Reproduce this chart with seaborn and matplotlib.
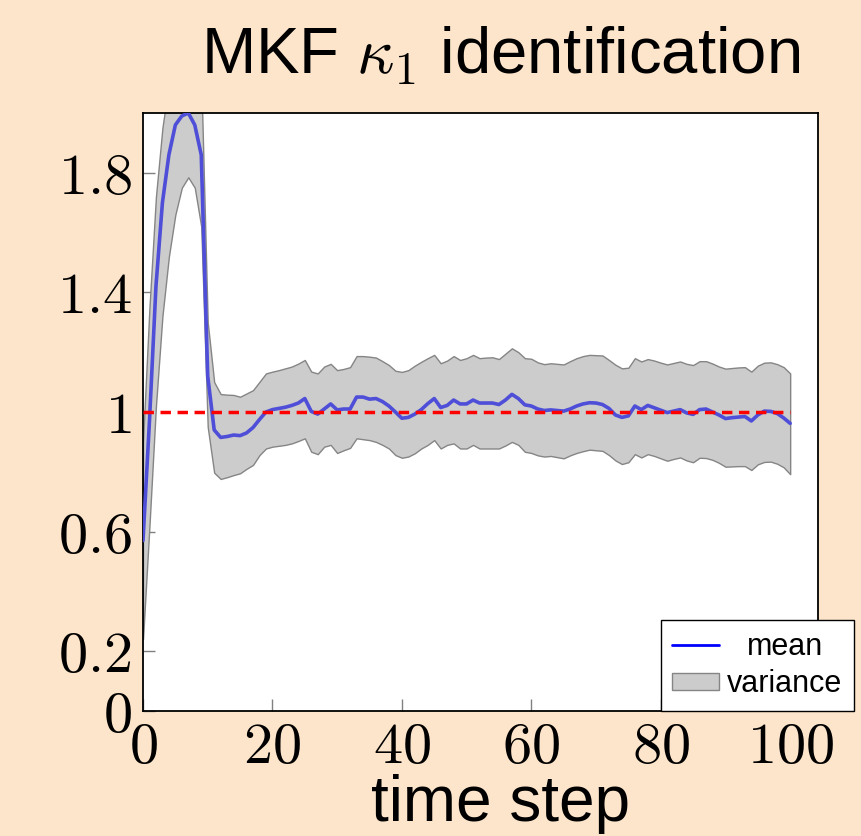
import numpy as np
import pandas as pd
import matplotlib
matplotlib.use("Agg")
import matplotlib.pyplot as plt
import seaborn as sns
from matplotlib.lines import Line2D
from matplotlib.patches import Patch

time_step = list(range(0, 101))
mean_vals = [0.57, 0.97, 1.42, 1.70, 1.86, 1.96, 1.99, 2.00, 1.96, 1.86,
             1.12, 0.94, 0.915, 0.918, 0.923, 0.921, 0.93, 0.948, 0.975, 1.0,
             1.008, 1.012, 1.016, 1.022, 1.03, 1.045, 1.002, 0.993, 1.01, 1.027,
             1.007, 1.01, 1.01, 1.05, 1.05, 1.043, 1.045, 1.035, 1.02, 1.0,
             0.979, 0.982, 0.993, 1.008, 1.028, 1.045, 1.015, 1.022, 1.04, 1.027,
             1.027, 1.04, 1.03, 1.03, 1.03, 1.025, 1.04, 1.059, 1.045, 1.024,
             1.02, 1.01, 1.005, 1.007, 1.005, 1.003, 1.01, 1.02, 1.027, 1.031,
             1.03, 1.025, 1.012, 0.99, 0.982, 0.987, 1.02, 1.008, 1.022, 1.014,
             1.006, 0.998, 1.003, 1.008, 0.997, 0.992, 1.008, 1.01, 1.0, 0.99,
             0.978, 0.981, 0.983, 0.985, 0.97, 0.99, 1.003, 1.002, 0.995, 0.98,
             0.962]
upper_vals = [0.90, 1.35, 1.72, 1.95, 2.1, 2.2, 2.25, 2.25, 2.22, 2.12,
              1.30, 1.10, 1.06, 1.058, 1.057, 1.051, 1.062, 1.073, 1.101, 1.129,
              1.135, 1.14, 1.146, 1.152, 1.162, 1.174, 1.135, 1.129, 1.152, 1.161,
              1.14, 1.144, 1.15, 1.187, 1.187, 1.185, 1.182, 1.17, 1.157, 1.138,
              1.134, 1.14, 1.155, 1.168, 1.18, 1.191, 1.163, 1.172, 1.187, 1.174,
              1.18, 1.191, 1.18, 1.182, 1.183, 1.177, 1.195, 1.213, 1.2, 1.18,
              1.178, 1.166, 1.16, 1.163, 1.161, 1.159, 1.17, 1.18, 1.187, 1.191,
              1.19, 1.189, 1.174, 1.158, 1.146, 1.148, 1.18, 1.169, 1.177, 1.172,
              1.165, 1.159, 1.164, 1.169, 1.161, 1.157, 1.17, 1.17, 1.162, 1.152,
              1.145, 1.147, 1.149, 1.15, 1.135, 1.155, 1.165, 1.166, 1.16, 1.15,
              1.129]
lower_vals = [0.24, 0.62, 1.02, 1.32, 1.52, 1.66, 1.75, 1.785, 1.75, 1.62,
              0.95, 0.797, 0.776, 0.782, 0.789, 0.795, 0.81, 0.823, 0.856, 0.878,
              0.884, 0.887, 0.89, 0.895, 0.903, 0.912, 0.867, 0.859, 0.884, 0.89,
              0.863, 0.872, 0.88, 0.912, 0.909, 0.906, 0.90, 0.89, 0.878, 0.856,
              0.847, 0.851, 0.862, 0.878, 0.89, 0.906, 0.878, 0.89, 0.895, 0.878,
              0.878, 0.89, 0.878, 0.878, 0.878, 0.878, 0.888, 0.90, 0.89, 0.867,
              0.863, 0.855, 0.851, 0.853, 0.849, 0.845, 0.855, 0.863, 0.869, 0.874,
              0.872, 0.87, 0.856, 0.838, 0.826, 0.832, 0.859, 0.848, 0.859, 0.853,
              0.845, 0.837, 0.843, 0.848, 0.838, 0.832, 0.847, 0.846, 0.84, 0.83,
              0.817, 0.818, 0.819, 0.819, 0.806, 0.825, 0.833, 0.834, 0.827, 0.815,
              0.792]
true_value = 1.0
x_ticks = [0, 20, 40, 60, 80, 100]
x_tick_labels = ["0", "20", "40", "60", "80", "100"]
y_ticks = [0, 0.2, 0.6, 1.0, 1.4, 1.8]
y_tick_labels = ["0", "0.2", "0.6", "1", "1.4", "1.8"]
legend_labels = ["mean", "variance"]

sns.set_theme(style="white")
plt.rcParams["font.family"] = ["Liberation Sans", "DejaVu Sans"]
plt.rcParams["mathtext.fontset"] = "cm"
plt.rcParams["text.color"] = "black"
plt.rcParams["axes.labelcolor"] = "black"
plt.rcParams["xtick.color"] = "black"
plt.rcParams["ytick.color"] = "black"

BG = "#fde5cb"
fig = plt.figure(figsize=(8.62, 8.36), dpi=100, facecolor=BG)
ax = fig.add_axes([143/862, 1-711/836, (818-143)/862, (711-113)/836])
ax.set_facecolor("white")

df = pd.DataFrame({"t": time_step, "mean": mean_vals,
                   "upper": upper_vals, "lower": lower_vals})

ax.fill_between(df["t"], df["lower"], df["upper"], facecolor="#cccccc",
                edgecolor="#858585", linewidth=1.0, zorder=1)
sns.lineplot(data=df, x="t", y="mean", ax=ax, color="#4e4ed8",
             linewidth=2.6, zorder=3)
ax.plot([time_step[0], time_step[-1]], [true_value, true_value], color="#ff0000",
        linestyle=(0, (3.0, 1.9)), linewidth=2.5, zorder=4)

ax.set_xlim(0, 104.3)
ax.set_ylim(0, 2.0)
ax.set_xticks(x_ticks)
ax.set_xticklabels([f"${s}$" for s in x_tick_labels])
ax.set_yticks(y_ticks)
ax.set_yticklabels([f"${s}$" for s in y_tick_labels])
ax.tick_params(axis="both", direction="in", length=8.5, width=1, color="#808080",
               labelcolor="black", labelsize=42, bottom=True, left=True,
               top=False, right=False)
ax.tick_params(axis="x", pad=7)
ax.tick_params(axis="y", pad=8)
for s in ax.spines.values():
    s.set_color("black")
    s.set_linewidth(1.3)

ax.set_xlabel("time step", fontsize=46)
ax.xaxis.set_label_coords(0.529, -(821-711)/598)
ax.xaxis.label.set_verticalalignment("baseline")
ax.set_ylabel("")
ax.set_title(r"MKF $\kappa_1$ identification", fontsize=47, x=0.529, pad=28)

handles = [Line2D([0], [0], color="blue", linewidth=2),
           Patch(facecolor="#cccccc", edgecolor="#858585", linewidth=1)]
leg = fig.legend(handles, legend_labels, loc="lower right",
                 bbox_to_anchor=(854/862, 1-711/836), fontsize=22,
                 frameon=True, fancybox=False, framealpha=1, edgecolor="black",
                 borderpad=0.38, handlelength=1.55, handleheight=0.5,
                 handletextpad=0.25, labelspacing=0.25, borderaxespad=0)
leg.get_frame().set_linewidth(1.0)

# centre the shorter label within the text column, as in the reference
try:
    renderer = fig.canvas.get_renderer()
    texts = leg.get_texts()
    w0 = texts[0].get_window_extent(renderer).width
    w1 = texts[1].get_window_extent(renderer).width
    rows = leg._legend_handle_box.get_children()[0].get_children()
    shift_pt = (w1 - w0) / 2 * 72 / fig.dpi
    rows[0].sep += shift_pt
except Exception:
    pass

fig.savefig("out.png", dpi=100, facecolor=BG)
